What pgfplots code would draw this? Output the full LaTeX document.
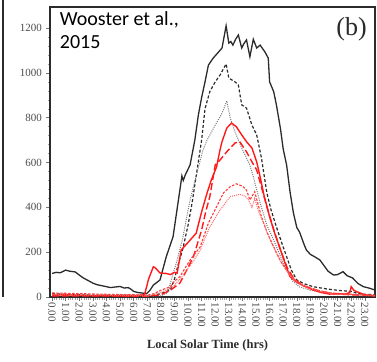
\documentclass[border=0pt]{standalone}
\usepackage{pgfplots}
\pgfplotsset{compat=1.18}
\usepackage{fontspec}
\setmainfont{Liberation Serif}
\newfontfamily\calibri{Carlito}
\newfontfamily\lserif{Liberation Serif}
\definecolor{dk}{HTML}{2B2B2B}
\definecolor{gr}{HTML}{777777}
\definecolor{rd}{HTML}{FF1A1A}
\definecolor{rd2}{HTML}{FF3A3A}
\definecolor{rd3}{HTML}{FF6A6A}
\begin{document}
\begin{tikzpicture}[x=1pt,y=1pt]
\useasboundingbox (0,0) rectangle (377,361);
\draw[dk,line width=1.3pt] (3,364) -- (3,64);
\begin{axis}[
  at={(50pt,64pt)}, anchor=south west,
  scale only axis, width=325pt, height=290pt,
  xmin=-0.15, xmax=23.75, ymin=0, ymax=1294,
  axis line style={dk,line width=1.3pt},
  xtick={0,...,23},
  xticklabels={0.00,1.00,2.00,3.00,4.00,5.00,6.00,7.00,8.00,9.00,10.00,11.00,12.00,13.00,14.00,15.00,16.00,17.00,18.00,19.00,20.00,21.00,22.00,23.00},
  ytick={0,200,...,1200},
  yticklabels={0,200,400,600,800,1000,1200},
  minor x tick num=5, minor y tick num=4,
  tick align=outside, tick pos=left,
  major tick length=4pt, minor tick length=2.5pt,
  every tick/.style={gr,line width=0.6pt},
  every minor tick/.style={gr!70,line width=0.4pt},
  /pgf/number format/assume math mode=true,
  /pgf/number format/1000 sep={},
  tick label style={font=\lserif\fontsize{11}{12}\selectfont, text=dk!85},
  x tick label style={rotate=-90, anchor=west, xshift=0pt, inner sep=1.5pt},
  y tick label style={inner sep=4pt},
  xlabel={\textbf{Local Solar Time (hrs)}},
  xlabel style={at={(axis description cs:0.485,-0.168)}, anchor=center, font=\lserif\fontsize{12.5}{14}\selectfont, text=dk},
  clip=true,
]
% black solid
\addplot[dk, line width=1.3pt] coordinates {
(0,105)(0.3,110)(0.6,108)(1.0,120)(1.3,115)(1.7,112)(2.0,98)(2.3,85)(2.7,72)(3.0,62)(3.3,55)(3.7,50)(4.0,46)(4.3,42)(4.7,45)(5.0,47)(5.3,40)(5.6,42)(5.8,35)(6.0,25)(6.3,20)(6.6,18)(6.96,15)(7.2,30)(7.45,53)(7.94,76)(8.4,180)(8.9,269)(9.4,477)(9.55,540)(9.65,520)(9.8,545)(10.15,589)(10.5,700)(10.76,812)(11.0,890)(11.25,960)(11.5,1035)(11.85,1066)(12.2,1090)(12.5,1111)(12.8,1210)(13.0,1133)(13.15,1140)(13.3,1124)(13.5,1150)(13.7,1169)(13.95,1111)(14.1,1130)(14.3,1147)(14.55,1072)(14.8,1150)(15.05,1111)(15.3,1124)(15.65,1094)(15.9,1066)(16.0,960)(16.3,916)(16.5,857)(16.8,750)(17.0,660)(17.25,589)(17.5,470)(17.75,375)(18.0,310)(18.2,290)(18.5,240)(18.7,210)(19.0,190)(19.3,180)(19.7,165)(20.0,140)(20.3,115)(20.7,98)(21.0,100)(21.4,113)(21.7,95)(22.1,85)(22.5,60)(22.9,46)(23.3,40)(23.75,31)};
% black dashed
\addplot[dk, line width=1.2pt, dash pattern=on 3pt off 2pt] coordinates {
(0,15)(1,12)(2,10)(3,8)(4,8)(5,8)(6,8)(7,5)(7.5,8)(8.0,15)(8.7,31)(9.0,80)(9.3,150)(9.6,210)(10.0,320)(10.3,420)(10.6,540)(11.0,700)(11.25,840)(11.6,916)(12.0,960)(12.35,990)(12.8,1040)(13.0,977)(13.45,960)(13.7,946)(13.95,857)(14.3,843)(14.7,767)(15.05,723)(15.4,620)(15.8,464)(16.1,390)(16.5,313)(16.9,240)(17.25,180)(17.6,120)(18.0,76)(18.5,60)(19.2,46)(20.2,36)(21.0,30)(22.1,24)(22.5,15)(23,12)(23.75,10)};
% gray dotted
\addplot[gr, line width=1pt, dash pattern=on 1pt off 1.2pt] coordinates {
(0,12)(2,8)(4,8)(6,8)(7,6)(8.0,5)(8.5,20)(9.2,165)(9.6,260)(10.15,433)(10.6,540)(11.1,656)(11.4,700)(12.0,767)(12.5,820)(12.85,875)(13.1,800)(13.45,737)(13.95,665)(14.55,589)(14.8,537)(15.3,420)(15.8,320)(16.3,254)(16.8,180)(17.25,120)(17.7,70)(18.2,45)(19,30)(20,20)(21,15)(22,12)(23.75,5)};
% red solid
\addplot[rd, line width=1.4pt] coordinates {
(0,8)(1,10)(2,8)(3,6)(4,6)(5,5)(6,5)(6.8,10)(7.1,80)(7.45,135)(7.6,130)(7.94,107)(8.4,105)(8.7,100)(9.0,110)(9.2,107)(9.5,210)(9.8,230)(10.1,250)(10.6,285)(11.0,380)(11.4,464)(11.7,520)(12.1,581)(12.35,656)(12.5,693)(12.85,754)(13.2,776)(13.55,760)(13.95,723)(14.3,693)(14.7,665)(15.05,603)(15.3,537)(15.6,450)(16.0,358)(16.4,280)(16.8,210)(17.2,140)(17.5,91)(18.0,65)(18.5,50)(19.2,31)(19.8,20)(20.4,13)(21.0,15)(21.5,12)(21.9,20)(22.0,46)(22.2,30)(22.4,24)(23,10)(23.75,5)};
% red long dashed
\addplot[rd, line width=1.4pt, dash pattern=on 7pt off 3pt] coordinates {
(0,5)(2,5)(4,5)(6,4)(7,3)(8,10)(8.7,30)(9.4,62)(9.9,120)(10.4,180)(11.0,299)(11.3,380)(11.6,447)(12.0,589)(12.35,611)(12.85,648)(13.45,687)(13.8,693)(14.3,648)(14.7,603)(15.05,567)(15.4,490)(15.8,403)(16.3,300)(16.8,210)(17.3,130)(17.8,80)(18.5,50)(19.5,30)(20.5,15)(22,10)(23.75,5)};
% red fine dashed
\addplot[rd2, line width=1.1pt, dash pattern=on 2.5pt off 1.5pt] coordinates {
(0,18)(2,15)(4,12)(6,10)(7,8)(7.5,15)(8.0,30)(8.7,46)(9.0,70)(9.4,91)(10.15,165)(10.9,224)(11.5,330)(12.1,403)(12.6,464)(13.1,492)(13.55,505)(14.0,495)(14.3,477)(14.55,433)(14.9,470)(15.4,358)(15.8,290)(16.3,224)(16.8,160)(17.25,120)(17.8,80)(18.5,50)(19.5,30)(20.5,18)(22,12)(23.75,8)};
% red dotted
\addplot[rd3, line width=1pt, dash pattern=on 1pt off 1pt] coordinates {
(0,10)(2,8)(4,8)(6,6)(7,5)(8,20)(8.9,46)(9.4,80)(9.9,120)(10.4,160)(10.9,210)(11.6,313)(12.35,388)(13.1,448)(13.8,458)(14.2,450)(14.45,433)(14.7,400)(14.9,440)(15.2,380)(15.55,330)(16.0,260)(16.5,196)(17.0,140)(17.5,95)(18,65)(18.8,40)(20,20)(21,12)(23.75,5)};
\node[anchor=north west, align=left, font=\calibri\fontsize{20}{23}\selectfont, inner sep=0pt] at (axis description cs:0.03,0.985) {Wooster et al.,\\2015};
\node[anchor=north east, font=\lserif\fontsize{26}{28}\selectfont, inner sep=0pt, text=dk] at (axis description cs:0.975,0.965) {(b)};
\end{axis}
\end{tikzpicture}
\end{document}
